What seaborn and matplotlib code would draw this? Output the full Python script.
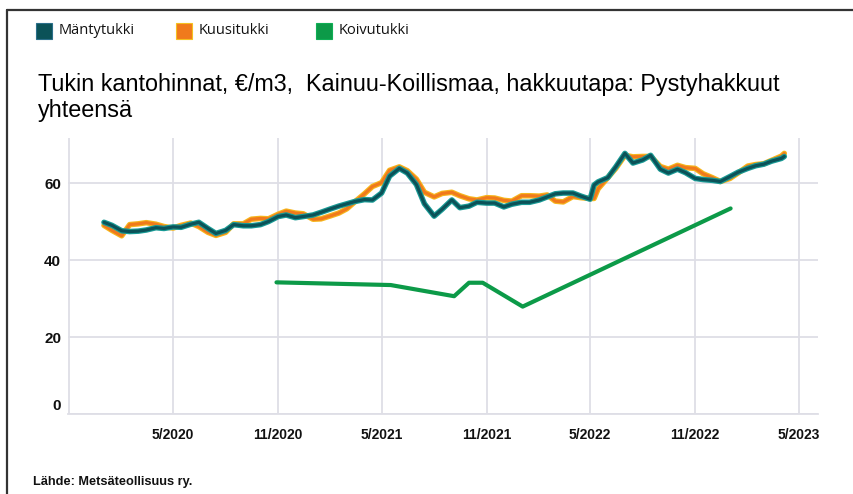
import matplotlib
matplotlib.use("Agg")
import matplotlib.pyplot as plt
import matplotlib.dates as mdates
import matplotlib.patheffects as pe
import matplotlib.transforms as mtransforms
from matplotlib.patches import Rectangle
from matplotlib.lines import Line2D
import pandas as pd
import seaborn as sns

# ---------------- data ----------------
dates = [
    "2020-01-01", "2020-01-15", "2020-02-01", "2020-02-15", "2020-03-01", "2020-03-15",
    "2020-04-01", "2020-04-15", "2020-05-01", "2020-05-15", "2020-06-01", "2020-06-15",
    "2020-07-01", "2020-07-15", "2020-08-01", "2020-08-15", "2020-09-01", "2020-09-15",
    "2020-10-01", "2020-10-15", "2020-11-01", "2020-11-15", "2020-12-01", "2020-12-15",
    "2021-01-01", "2021-01-15", "2021-02-01", "2021-02-15", "2021-03-01", "2021-03-15",
    "2021-04-01", "2021-04-15", "2021-05-01", "2021-05-15", "2021-06-01", "2021-06-15",
    "2021-07-01", "2021-07-15", "2021-08-01", "2021-08-15", "2021-09-01", "2021-09-15",
    "2021-10-01", "2021-10-15", "2021-11-01", "2021-11-15", "2021-12-01", "2021-12-15",
    "2022-01-01", "2022-01-15", "2022-02-01", "2022-02-15", "2022-03-01", "2022-03-15",
    "2022-04-01", "2022-04-15", "2022-05-01", "2022-05-08", "2022-05-15", "2022-06-01",
    "2022-06-15", "2022-07-01", "2022-07-15", "2022-08-01", "2022-08-15", "2022-09-01",
    "2022-09-15", "2022-10-01", "2022-10-15", "2022-11-01", "2022-11-15", "2022-12-01",
    "2022-12-15", "2023-01-01", "2023-01-15", "2023-02-01", "2023-02-15", "2023-03-01",
    "2023-03-15", "2023-04-01", "2023-04-06",
]
mantytukki = [
    49.8, 49.0, 47.6, 47.4, 47.5, 47.8, 48.4, 48.2, 48.6, 48.5, 49.3, 49.8,
    48.2, 46.9, 47.7, 49.2, 48.9, 48.9, 49.2, 50.0, 51.3, 51.7, 51.0, 51.3,
    51.7, 52.4, 53.3, 54.0, 54.6, 55.2, 55.7, 55.6, 57.4, 61.8, 63.8, 62.6,
    59.6, 54.6, 51.4, 53.2, 55.6, 53.6, 54.0, 55.0, 54.8, 54.8, 53.8, 54.5,
    55.0, 55.0, 55.6, 56.4, 57.2, 57.4, 57.4, 56.6, 55.8, 59.5, 60.3, 61.4,
    64.2, 67.7, 65.2, 66.0, 67.2, 63.6, 62.6, 63.6, 62.7, 61.2, 60.9, 60.7,
    60.4, 61.7, 62.8, 63.8, 64.5, 64.9, 65.7, 66.4, 66.9,
]
kuusitukki = [
    49.0, 47.7, 46.3, 49.2, 49.4, 49.7, 49.3, 48.7, 48.3, 49.0, 49.6, 48.7,
    47.2, 46.4, 47.2, 49.4, 49.4, 50.6, 50.8, 50.7, 51.9, 52.7, 52.2, 52.0,
    50.6, 50.7, 51.5, 52.2, 53.3, 55.1, 57.2, 59.1, 60.1, 63.3, 64.2, 63.2,
    61.0, 57.6, 56.4, 57.3, 57.6, 56.7, 55.9, 55.6, 56.2, 56.1, 55.5, 55.3,
    56.7, 56.7, 56.6, 56.9, 55.3, 55.1, 56.5, 56.2, 56.0, 56.0, 58.5, 61.4,
    63.8, 67.2, 66.8, 66.9, 66.9, 64.3, 63.6, 64.6, 64.0, 63.8, 62.4, 61.4,
    60.4, 61.2, 62.6, 64.4, 64.8, 65.0, 65.9, 67.0, 67.7,
]
koivu_dates = ["2020-10-29", "2021-05-17", "2021-09-05", "2021-10-01",
               "2021-10-25", "2022-01-03", "2023-01-02"]
koivutukki = [34.2, 33.5, 30.6, 34.1, 34.1, 27.9, 53.4]

series_names = ["Mäntytukki", "Kuusitukki", "Koivutukki"]
tick_dates = ["2019-11-01", "2020-05-01", "2020-11-01", "2021-05-01",
              "2021-11-01", "2022-05-01", "2022-11-01", "2023-05-01"]
tick_labels = ["", "5/2020", "11/2020", "5/2021", "11/2021",
               "5/2022", "11/2022", "5/2023"]
y_ticks = [0, 20, 40, 60]
title = "Tukin kantohinnat, €/m3,  Kainuu-Koillismaa, hakkuutapa: Pystyhakkuut\nyhteensä"
source = "Lähde: Metsäteollisuus ry."

# ---------------- style ----------------
sns.set_theme(style="whitegrid")
plt.rcParams["font.family"] = ["Liberation Sans", "DejaVu Sans"]

c_manty = "#0b5258"
c_manty_edge = "#199a95"
c_kuusi = "#f07a1c"
c_kuusi_edge = "#f6b51c"
c_koivu = "#0c9a48"
grid_c = "#dedee6"

W, H = 854, 494
fig = plt.figure(figsize=(W / 100, H / 100), dpi=100)
fig.patch.set_facecolor("white")
ax = fig.add_axes([68 / W, 1 - 414 / H, 750 / W, 276 / H])
ax.set_facecolor("white")

df = pd.DataFrame({"date": pd.to_datetime(dates), "manty": mantytukki, "kuusi": kuusitukki})
dk = pd.DataFrame({"date": pd.to_datetime(koivu_dates), "koivu": koivutukki})

sns.lineplot(data=df, x="date", y="kuusi", ax=ax, color=c_kuusi, lw=2.3,
             solid_joinstyle="round", solid_capstyle="round",
             path_effects=[pe.Stroke(linewidth=4.0, foreground=c_kuusi_edge), pe.Normal()])
sns.lineplot(data=df, x="date", y="manty", ax=ax, color=c_manty, lw=2.3,
             solid_joinstyle="round", solid_capstyle="round",
             path_effects=[pe.Stroke(linewidth=4.0, foreground=c_manty_edge), pe.Normal()])
sns.lineplot(data=dk, x="date", y="koivu", ax=ax, color=c_koivu, lw=3.0,
             solid_joinstyle="round", solid_capstyle="round")

ax.set_xlim(pd.Timestamp("2019-10-30"), pd.Timestamp("2023-06-04"))
ax.set_ylim(0, 71.7)
ax.set_xticks(pd.to_datetime(tick_dates))
ax.set_xticklabels(tick_labels)
ax.set_yticks(y_ticks)
ax.set_yticklabels([str(v) for v in y_ticks])
ax.set_xlabel("")
ax.set_ylabel("")

ax.grid(True, color=grid_c, lw=1.3)
for s in ["top", "right", "left"]:
    ax.spines[s].set_visible(False)
ax.spines["bottom"].set_color(grid_c)
ax.spines["bottom"].set_linewidth(1.3)

ax.tick_params(axis="x", length=3, color=grid_c, pad=7, labelsize=10,
               labelcolor="#111111")
ax.tick_params(axis="y", length=3, color=grid_c, pad=2, labelsize=11,
               labelcolor="#111111")
for lab in ax.get_xticklabels():
    lab.set_fontweight("bold")
for lab in ax.get_yticklabels():
    lab.set_fontweight("bold")

# raise the "0" label slightly as in the reference
t0 = ax.yaxis.get_major_ticks()[0].label1
t0.set_transform(t0.get_transform() + mtransforms.ScaledTranslation(0, 10 / 100, fig.dpi_scale_trans))

# title
fig.text(38 / W, 1 - 73 / H, title, ha="left", va="top", fontsize=16.8,
         color="#000000", linespacing=1.15)

# legend (manual squares)
leg_colors = [(c_manty, "#2b6f8a"), (c_kuusi, "#f5c020"), (c_koivu, "#0fae55")]
leg_x = [36, 176, 316]
for name, (fc, ec), lx in zip(series_names, leg_colors, leg_x):
    fig.add_artist(Rectangle((lx / W, 1 - 39 / H), 16 / W, 16 / H,
                             transform=fig.transFigure, facecolor=fc,
                             edgecolor=ec, lw=0.8))
    fig.text((lx + 23) / W, 1 - 31 / H, name, ha="left", va="center",
             fontsize=10.5, color="#111111", family=["Open Sans", "DejaVu Sans"])

# source
fig.text(33 / W, 1 - 482 / H, source, ha="left", va="center", fontsize=9.2,
         fontweight="bold", color="#111111")

# frame on top and left
fig.add_artist(Line2D([7.5 / W, 7.5 / W], [0, 1 - 10.5 / H], transform=fig.transFigure,
                      color="#333333", lw=1.6))
fig.add_artist(Line2D([7.5 / W, 1], [1 - 10.5 / H, 1 - 10.5 / H], transform=fig.transFigure,
                      color="#333333", lw=1.6))

fig.savefig("out.png", dpi=100, facecolor="white")
